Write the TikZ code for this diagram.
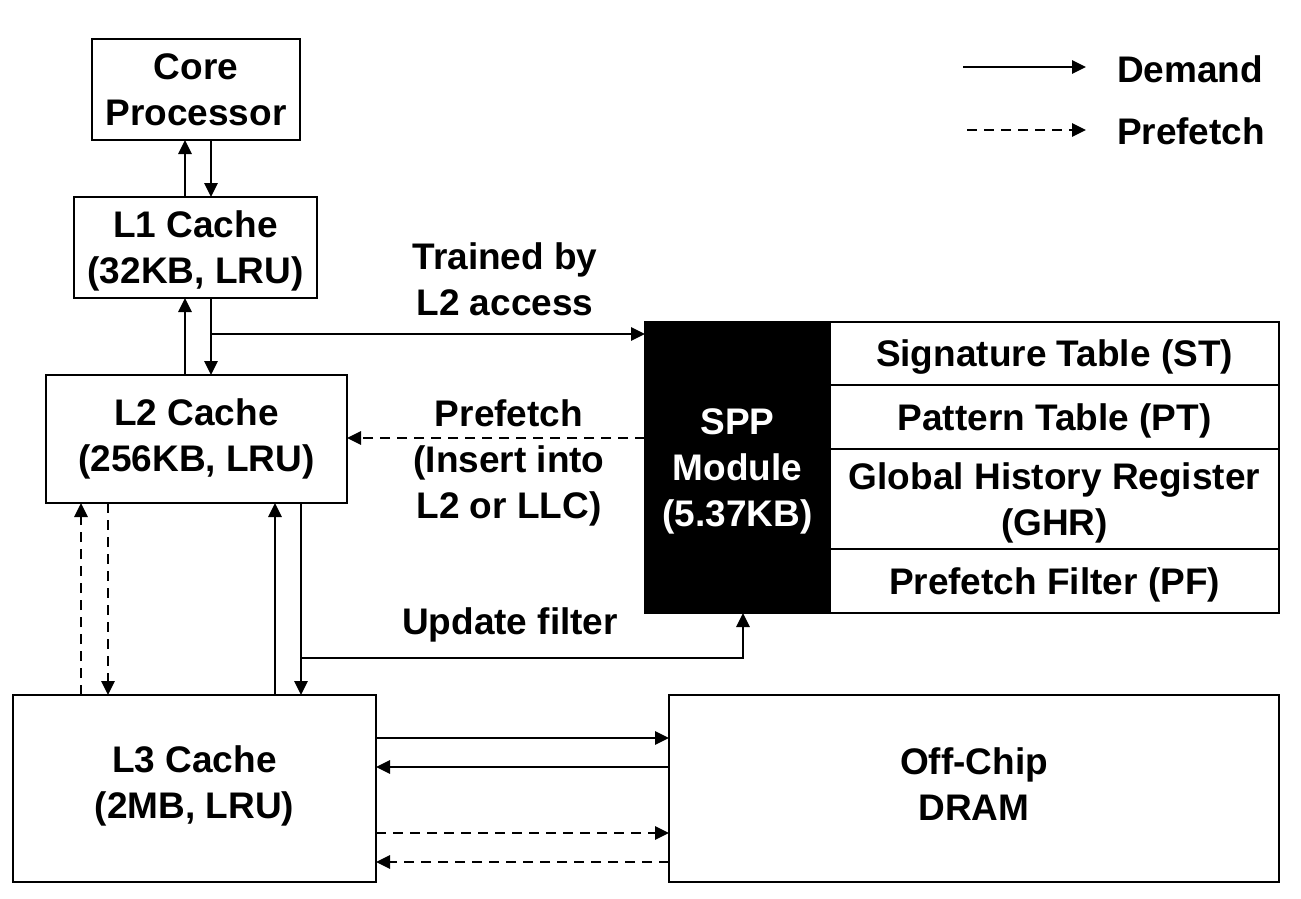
\documentclass[tikz,border=0pt]{standalone}
\usepackage{fontspec}
\setmainfont{Liberation Sans}
\usetikzlibrary{arrows.meta}
\begin{document}
\begin{tikzpicture}[x=1pt,y=-1pt,
  every node/.style={font=\fontsize{37}{46}\selectfont\bfseries, inner sep=0pt, outer sep=0pt},
  box/.style={draw, line width=2.8pt, align=center},
  tbl/.style={draw, line width=1.6pt, align=center, minimum width=449pt, text depth=0pt},
  lbl/.style={align=center},
  arr/.style={line width=2.8pt, -{Triangle[length=14pt,width=13pt]}},
  pre/.style={arr, dash pattern=on 10pt off 7pt}]
\useasboundingbox (0,0) rectangle (1301,899);
% boxes
\node[box, text depth=0pt, minimum width=208pt, minimum height=101pt] (core) at (196,89.5) {Core\\Processor};
\node[box, text depth=0pt, minimum width=243pt, minimum height=101pt] (l1) at (195.5,247.5) {L1 Cache\\(32KB, LRU)};
\node[box, minimum width=301pt, minimum height=128pt] (l2) at (196.5,439) {L2 Cache\\(256KB, LRU)};
\node[box, text depth=12pt, minimum width=363pt, minimum height=187pt] (l3) at (194.5,788.5) {L3 Cache\\(2MB, LRU)};
\node[box, text depth=8pt, minimum width=610pt, minimum height=187pt] (dram) at (974,788.5) {Off-Chip\\DRAM};
\node[draw, fill=black, text=white, line width=1.6pt, align=center, text depth=0pt, minimum width=185pt, minimum height=291pt] (spp) at (737.5,467.5) {SPP\\Module\\(5.37KB)};
\node[tbl, minimum height=63pt] (st) at (1054.5,353.5) {Signature Table (ST)};
\node[tbl, minimum height=64pt] (pt) at (1054.5,417) {Pattern Table (PT)};
\node[tbl, minimum height=100pt] (ghr) at (1054.5,499) {Global History Register\\(GHR)};
\node[tbl, minimum height=64pt] (pf) at (1054.5,581) {Prefetch Filter (PF)};
% column / row coordinates
\coordinate (cA) at (185,0);
\coordinate (cB) at (211,0);
\coordinate (dA) at (81,0);
\coordinate (dB) at (108,0);
\coordinate (dC) at (275,0);
\coordinate (dD) at (301,0);
\coordinate (sx) at (743,0);
\coordinate (r1) at (0,738);
\coordinate (r2) at (0,767);
\coordinate (r3) at (0,833);
\coordinate (r4) at (0,862);
\coordinate (tb) at (211,334);
\coordinate (pr) at (0,438);
\coordinate (uf) at (301,658);
% core - L1
\draw[arr] (l1.north -| cA) -- (core.south -| cA);
\draw[arr] (core.south -| cB) -- (l1.north -| cB);
% L1 - L2
\draw[arr] (l2.north -| cA) -- (l1.south -| cA);
\draw[arr] (l1.south -| cB) -- (l2.north -| cB);
% trained
\draw[arr] (tb) -- (spp.west |- tb);
% prefetch into L2
\draw[pre] (spp.west |- pr) -- (l2.east |- pr);
% L2 - L3
\draw[pre] (l3.north -| dA) -- (l2.south -| dA);
\draw[pre] (l2.south -| dB) -- (l3.north -| dB);
\draw[arr] (l3.north -| dC) -- (l2.south -| dC);
\draw[arr] (l2.south -| dD) -- (l3.north -| dD);
% update filter
\draw[arr] (uf) -| (spp.south -| sx);
% L3 - DRAM
\draw[arr] (l3.east |- r1) -- (dram.west |- r1);
\draw[arr] (dram.west |- r2) -- (l3.east |- r2);
\draw[pre] (l3.east |- r3) -- (dram.west |- r3);
\draw[pre] (dram.west |- r4) -- (l3.east |- r4);
% labels
\node[lbl] (ltrain) at (505,279) {Trained by\\L2 access};
\node[lbl] (lpref) at (509,463) {Prefetch\\(Insert into\\L2 or LLC)};
\node[lbl] (lupd) at (510,625) {Update filter};
% legend
\coordinate (lg1s) at (963,67);
\coordinate (lg1e) at (1086,67);
\coordinate (lg2s) at (967,130);
\coordinate (lg2e) at (1086,130);
\draw[arr] (lg1s) -- (lg1e);
\draw[pre] (lg2s) -- (lg2e);
\node[anchor=west] (ldem) at (1117,69) {Demand};
\node[anchor=west] (lpf) at (1117,131) {Prefetch};
\end{tikzpicture}
\end{document}
